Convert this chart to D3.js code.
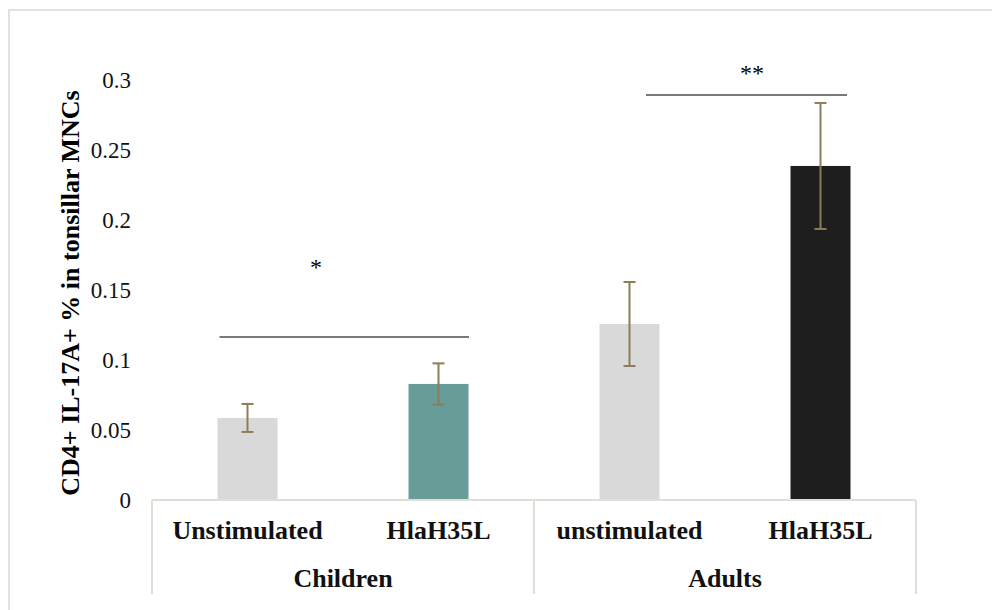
<!DOCTYPE html>
<html>
<head>
<meta charset="utf-8">
<script src="https://cdn.jsdelivr.net/npm/d3@7"></script>
<style>
  html, body { margin: 0; padding: 0; background: #ffffff; }
  svg { display: block; }
  svg text { font-family: "Liberation Serif", "Times New Roman", serif; }
</style>
</head>
<body>
<svg id="chart" width="992" height="610"></svg>
<script>
// Stimulation conditions within each age group
const conditions = ["Unstimulated", "HlaH35L", "unstimulated", "HlaH35L"];
const groups = ["Children", "Children", "Adults", "Adults"];
const groupNames = ["Children", "Adults"];
// Mean CD4+ IL-17A+ percentage and error
const means = [0.0586, 0.0829, 0.1257, 0.2386];
const errors = [0.0100, 0.0147, 0.0300, 0.0450];
const barColors = ["#d9d9d9", "#679c99", "#d9d9d9", "#1e1e1e"];
const yTicks = [0, 0.05, 0.1, 0.15, 0.2, 0.25, 0.3];
// Significance brackets: from bar index to bar index, at a level, with a mark
const sigFrom = [0, 2];
const sigTo = [1, 3];
const sigLevel = [0.1164, 0.2893];
const sigMark = ["*", "**"];

const svg = d3.select("#chart");
const plotLeft = 152, plotRight = 916, plotTop = 80, plotBottom = 500;

const keys = conditions.map((c, i) => i);
const x = d3.scaleBand().domain(keys).range([plotLeft, plotRight]).paddingInner(0.686).paddingOuter(0.343);
const y = d3.scaleLinear().domain([0, 0.3]).range([plotBottom, plotTop]);
const center = i => x(i) + x.bandwidth() / 2;

// Outer frame
svg.append("rect")
  .attr("x", 9).attr("y", 10).attr("width", 1000).attr("height", 620)
  .attr("fill", "none").attr("stroke", "#e4e1d9").attr("stroke-width", 2);

// Y axis tick labels (no axis line)
const yAxis = d3.axisLeft(y).tickValues(yTicks).tickSize(0).tickPadding(0)
  .tickFormat(d => String(+d.toFixed(2)));
const yg = svg.append("g").attr("transform", "translate(131,0)").call(yAxis);
yg.attr("font-family", null).attr("font-size", null);
yg.select(".domain").remove();
yg.selectAll("text")
  .attr("font-size", 23).attr("fill", "#111").attr("dy", "0.33em");

// Y axis title
svg.append("text")
  .attr("transform", `translate(79,${(plotTop + plotBottom) / 2 + 3}) rotate(-90)`)
  .attr("text-anchor", "middle")
  .attr("font-size", 26).attr("font-weight", "bold").attr("fill", "#000")
  .text("CD4+ IL-17A+ % in tonsillar MNCs");

// Bars
svg.append("g").selectAll("rect").data(keys).join("rect")
  .attr("x", i => x(i)).attr("width", x.bandwidth())
  .attr("y", i => y(means[i])).attr("height", i => y(0) - y(means[i]))
  .attr("fill", i => barColors[i]);

// Error bars
const eb = svg.append("g").attr("stroke", "#8c7d5a").attr("stroke-width", 2);
keys.forEach(i => {
  const cx = center(i);
  const hi = y(means[i] + errors[i]), lo = y(means[i] - errors[i]);
  eb.append("line").attr("x1", cx).attr("x2", cx).attr("y1", hi).attr("y2", lo);
  eb.append("line").attr("x1", cx - 6).attr("x2", cx + 6).attr("y1", hi).attr("y2", hi);
  eb.append("line").attr("x1", cx - 6).attr("x2", cx + 6).attr("y1", lo).attr("y2", lo);
});

// Category axis: baseline and group dividers
const axisColor = "#e1ded5";
svg.append("line").attr("x1", plotLeft).attr("x2", plotRight)
  .attr("y1", plotBottom).attr("y2", plotBottom)
  .attr("stroke", axisColor).attr("stroke-width", 2);
const step = x.step();
[plotLeft, plotLeft + 2 * step, plotRight].forEach(xv => {
  svg.append("line").attr("x1", xv).attr("x2", xv)
    .attr("y1", plotBottom).attr("y2", 594)
    .attr("stroke", axisColor).attr("stroke-width", 2);
});

// Condition labels
svg.append("g").selectAll("text").data(keys).join("text")
  .attr("x", i => center(i)).attr("y", 539)
  .attr("text-anchor", "middle")
  .attr("font-size", 26).attr("font-weight", "bold").attr("fill", "#111")
  .text(i => conditions[i]);

// Group labels
groupNames.forEach(g => {
  const idx = keys.filter(i => groups[i] === g);
  const cx = (center(idx[0]) + center(idx[idx.length - 1])) / 2;
  svg.append("text")
    .attr("x", cx).attr("y", 587)
    .attr("text-anchor", "middle")
    .attr("font-size", 26).attr("font-weight", "bold").attr("fill", "#111")
    .text(g);
});

// Significance brackets (drawn shapes hand-placed relative to the bars)
const bracketStart = [-28, 16.5];
const bracketEnd = [30.5, 26.5];
const markX = [316, 752];
const markLift = [62, 14];
sigLevel.forEach((lv, k) => {
  const xa = center(sigFrom[k]) + bracketStart[k];
  const xb = center(sigTo[k]) + bracketEnd[k];
  const yl = y(lv);
  svg.append("line").attr("x1", xa).attr("x2", xb).attr("y1", yl).attr("y2", yl)
    .attr("stroke", "#7a7a72").attr("stroke-width", 2);
  svg.append("text")
    .attr("x", markX[k]).attr("y", yl - markLift[k])
    .attr("text-anchor", "middle")
    .attr("font-size", 24).attr("fill", "#000")
    .text(sigMark[k]);
});
</script>
</body>
</html>
